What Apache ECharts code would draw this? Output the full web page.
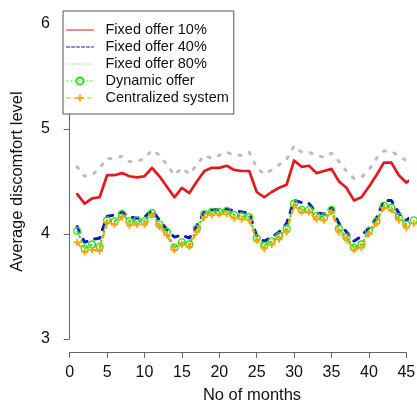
<!DOCTYPE html>
<html>
<head>
<meta charset="utf-8">
<script src="https://cdn.jsdelivr.net/npm/echarts@6/dist/echarts.min.js"></script>
<style>
  html, body { margin: 0; padding: 0; background: #fff; }
  #chart { width: 417px; height: 403px; }
</style>
</head>
<body>
<div id="chart"></div>
<script>
// Monthly average discomfort level under different pricing schemes
const months = [1, 2, 3, 4, 5, 6, 7, 8, 9, 10, 11, 12, 13, 14, 15, 16, 17, 18, 19, 20, 21, 22, 23, 24,
                25, 26, 27, 28, 29, 30, 31, 32, 33, 34, 35, 36, 37, 38, 39, 40, 41, 42, 43, 44, 45, 46, 47, 48];

const fixed10 = [4.38, 4.29, 4.34, 4.35, 4.56, 4.56, 4.58, 4.55, 4.54, 4.55, 4.63, 4.55, 4.45, 4.35, 4.44, 4.39,
                 4.50, 4.60, 4.63, 4.63, 4.65, 4.61, 4.60, 4.60, 4.40, 4.35, 4.40, 4.44, 4.47, 4.70, 4.64, 4.65,
                 4.58, 4.60, 4.62, 4.50, 4.44, 4.32, 4.35, 4.45, 4.56, 4.68, 4.68, 4.56, 4.49, 4.54, 4.59, 4.61];

const fixed40 = [4.07, 3.92, 3.95, 3.96, 4.17, 4.18, 4.21, 4.16, 4.15, 4.16, 4.23, 4.13, 4.04, 3.97, 3.99, 3.96,
                 4.08, 4.21, 4.23, 4.23, 4.24, 4.22, 4.21, 4.20, 3.98, 3.93, 3.97, 4.02, 4.10, 4.32, 4.30, 4.29,
                 4.20, 4.19, 4.25, 4.10, 4.02, 3.93, 3.98, 4.06, 4.15, 4.32, 4.32, 4.20, 4.13, 4.18, 4.19, 4.18];

const fixed80 = [4.64, 4.55, 4.56, 4.63, 4.72, 4.72, 4.74, 4.69, 4.69, 4.72, 4.80, 4.75, 4.66, 4.56, 4.63, 4.57,
                 4.66, 4.75, 4.72, 4.75, 4.78, 4.75, 4.75, 4.78, 4.63, 4.57, 4.61, 4.66, 4.71, 4.84, 4.78, 4.78,
                 4.75, 4.73, 4.77, 4.69, 4.60, 4.53, 4.54, 4.61, 4.72, 4.79, 4.79, 4.74, 4.70, 4.73, 4.75, 4.74];

const dynamicOffer = [4.03, 3.86, 3.90, 3.88, 4.13, 4.12, 4.19, 4.12, 4.13, 4.12, 4.20, 4.09, 4.02, 3.87, 3.92, 3.90,
                      4.05, 4.19, 4.21, 4.21, 4.22, 4.18, 4.17, 4.16, 3.96, 3.89, 3.93, 3.98, 4.05, 4.29, 4.23, 4.23,
                      4.17, 4.16, 4.23, 4.05, 3.97, 3.87, 3.90, 4.03, 4.12, 4.27, 4.25, 4.16, 4.09, 4.13, 4.15, 4.14];

const centralized = [3.92, 3.83, 3.85, 3.84, 4.11, 4.09, 4.16, 4.08, 4.09, 4.09, 4.18, 4.07, 3.99, 3.85, 3.90, 3.88,
                     4.02, 4.16, 4.18, 4.19, 4.19, 4.15, 4.14, 4.13, 3.94, 3.86, 3.90, 3.95, 4.02, 4.27, 4.21, 4.21,
                     4.14, 4.13, 4.21, 4.02, 3.95, 3.85, 3.87, 4.00, 4.10, 4.25, 4.23, 4.13, 4.06, 4.10, 4.12, 4.11];

const seriesNames = ['Fixed offer 10%', 'Fixed offer 40%', 'Fixed offer 80%', 'Dynamic offer', 'Centralized system'];
const xTicks = { min: 0, max: 45, step: 5 };
const yTicks = { min: 3, max: 6, step: 1 };

const FONT = '"Liberation Sans", Arial, sans-serif';
const AXIS_GREY = '#666';

const pair = vals => months.map((m, i) => [m, vals[i]]);
const plusPath = 'path://M3,0H5V3H8V5H5V8H3V5H0V3H3Z';
const hiddenMarker = { opacity: 0 };

const chart = echarts.init(document.getElementById('chart'), null, { renderer: 'canvas' });

chart.setOption({
  animation: false,
  backgroundColor: '#fff',
  grid: { left: 69.7, right: 10.7, top: 24, bottom: 64, containLabel: false, outerBoundsMode: 'none' },
  xAxis: {
    type: 'value',
    min: xTicks.min, max: xTicks.max, interval: xTicks.step,
    offset: 13,
    name: 'No of months',
    nameLocation: 'middle',
    nameGap: 35,
    nameTextStyle: { fontFamily: FONT, fontSize: 16.5, color: '#111', padding: [0, 0, 0, 28] },
    axisLine: { show: true, lineStyle: { color: AXIS_GREY, width: 1 } },
    axisTick: { show: true, length: 6, lineStyle: { color: AXIS_GREY } },
    axisLabel: { fontFamily: FONT, fontSize: 16, color: '#111', margin: 13 },
    splitLine: { show: false }
  },
  yAxis: {
    type: 'value',
    min: yTicks.min, max: yTicks.max, interval: yTicks.step,
    offset: 6.7,
    name: 'Average discomfort level',
    nameLocation: 'middle',
    nameGap: 37,
    nameTextStyle: { fontFamily: FONT, fontSize: 16.5, color: '#111' },
    axisLine: { show: true, lineStyle: { color: AXIS_GREY, width: 1 } },
    axisTick: { show: true, length: 6, lineStyle: { color: AXIS_GREY } },
    axisLabel: { fontFamily: FONT, fontSize: 16, color: '#111', margin: 13 },
    splitLine: { show: false }
  },
  legend: {
    left: 63, top: 11,
    orient: 'vertical',
    align: 'left',
    itemWidth: 27, itemHeight: 9, itemGap: 2,
    padding: [11.5, 5, 8.5, 3],
    borderColor: '#555', borderWidth: 1,
    backgroundColor: '#fff',
    textStyle: { fontFamily: FONT, fontSize: 14.5, color: '#111', padding: [0, 0, 0, 7] },
    data: [
      { name: seriesNames[0], lineStyle: { width: 1, type: 'solid' }, itemStyle: hiddenMarker },
      { name: seriesNames[1], lineStyle: { width: 1, type: [3, 2] }, itemStyle: hiddenMarker },
      { name: seriesNames[2], lineStyle: { width: 1, type: [1, 2] }, itemStyle: hiddenMarker },
      { name: seriesNames[3], lineStyle: { width: 1, type: [2, 2] } },
      { name: seriesNames[4], lineStyle: { width: 1, type: [4, 3] } }
    ]
  },
  series: [
    {
      name: seriesNames[0], type: 'line', data: pair(fixed10), clip: false,
      symbol: 'none', color: '#e31a1c',
      lineStyle: { color: '#e31a1c', width: 2.7, cap: 'round', join: 'round' }, z: 2
    },
    {
      name: seriesNames[1], type: 'line', data: pair(fixed40), clip: false,
      symbol: 'none', color: '#1515c8',
      lineStyle: { color: '#1515c8', width: 3, type: [6, 8], cap: 'round' }, z: 3
    },
    {
      name: seriesNames[2], type: 'line', data: pair(fixed80), clip: false,
      symbol: 'none', color: '#bdbdbd',
      lineStyle: { color: '#bdbdbd', width: 3, type: [2, 9], cap: 'round' }, z: 2
    },
    {
      name: seriesNames[3], type: 'line', data: pair(dynamicOffer), clip: false,
      symbol: 'circle', symbolSize: 7, showSymbol: true, color: '#33dd22',
      itemStyle: { color: 'rgba(255,255,255,0)', borderColor: '#33dd22', borderWidth: 1.3 },
      lineStyle: { color: '#33dd22', width: 2, type: [3, 2] }, z: 4
    },
    {
      name: seriesNames[4], type: 'line', data: pair(centralized), clip: false,
      symbol: plusPath, symbolSize: 7, showSymbol: true, color: '#ffa500',
      itemStyle: { color: '#ffa500' },
      lineStyle: { color: '#ffa500', width: 2, type: [6, 4] }, z: 5
    }
  ]
});
</script>
</body>
</html>
